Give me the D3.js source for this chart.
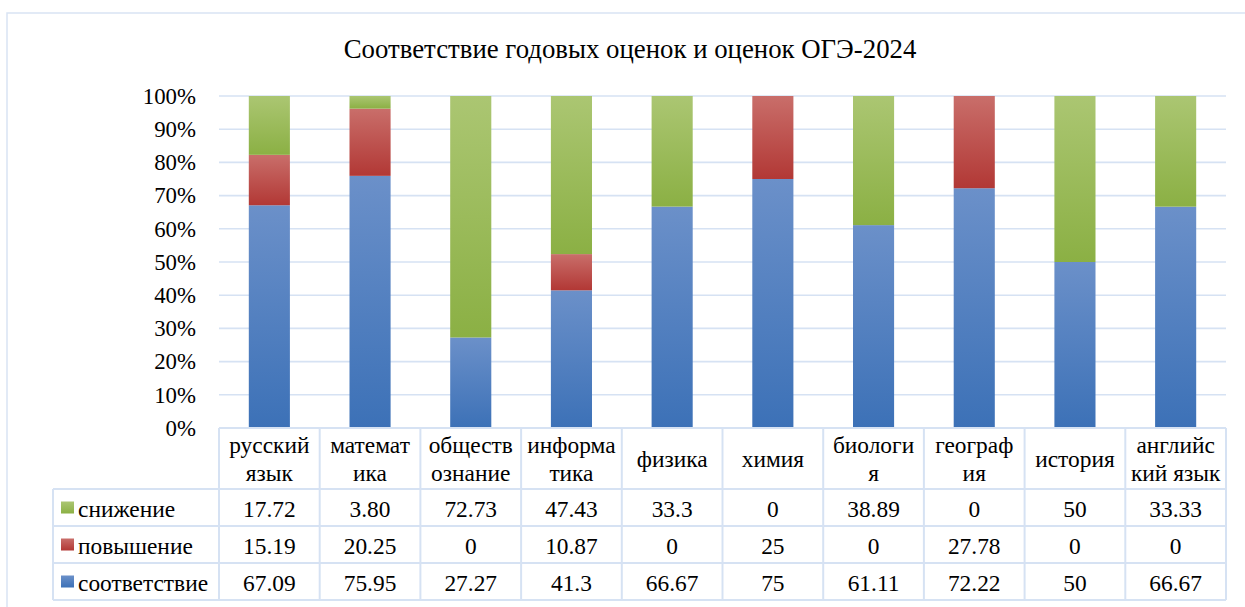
<!DOCTYPE html>
<html>
<head>
<meta charset="utf-8">
<script src="https://cdn.jsdelivr.net/npm/d3@7"></script>
<style>
  html, body { margin: 0; padding: 0; background: #fff; }
  svg { display: block; }
  svg text { font-family: 'Tinos', 'Times', serif; }
</style>
</head>
<body>
<div id="chart"></div>
<script>
// categories as they wrap in the table header
const categories = [
  ["русский", "язык"], ["математ", "ика"], ["обществ", "ознание"], ["информа", "тика"],
  ["физика"], ["химия"], ["биологи", "я"], ["географ", "ия"], ["история"], ["английс", "кий язык"]
];
const decline = ["17.72", "3.80", "72.73", "47.43", "33.3", "0", "38.89", "0", "50", "33.33"];
const increase = ["15.19", "20.25", "0", "10.87", "0", "25", "0", "27.78", "0", "0"];
const match = ["67.09", "75.95", "27.27", "41.3", "66.67", "75", "61.11", "72.22", "50", "66.67"];
const yTicks = [0, 0.1, 0.2, 0.3, 0.4, 0.5, 0.6, 0.7, 0.8, 0.9, 1];

const seriesNames = ["соответствие", "повышение", "снижение"];
const seriesValues = [match, increase, decline];
const colors = {
  "соответствие": ["#6b90c9", "#3c71b7"],
  "повышение": ["#c96e6a", "#b23835"],
  "снижение": ["#abc672", "#8bb044"]
};

const FONT = "'Tinos', 'Times', serif";
const width = 1245, height = 607;
const plot = { left: 219, right: 1226, top: 96, bottom: 428 };
const headerH = 61, rowH = 37, legendLeft = 53;
const gridColor = "#d6e2f3";
const cellFont = "23.4px";

const rows = categories.map((c, i) => {
  const r = { key: i };
  seriesNames.forEach((s, j) => { r[s] = +seriesValues[j][i]; });
  return r;
});

const stacked = d3.stack().keys(seriesNames).offset(d3.stackOffsetExpand)(rows);

const x = d3.scaleBand().domain(d3.range(categories.length)).range([plot.left, plot.right]).padding(0);
const y = d3.scaleLinear().domain([0, 1]).range([plot.bottom, plot.top]);
const barW = x.bandwidth() / 2.45;

const svg = d3.select("#chart").append("svg").attr("width", width).attr("height", height);

const defs = svg.append("defs");
seriesNames.forEach((s, i) => {
  const g = defs.append("linearGradient").attr("id", "grad" + i)
    .attr("x1", 0).attr("y1", 0).attr("x2", 0).attr("y2", 1);
  g.append("stop").attr("offset", "0%").attr("stop-color", colors[s][0]);
  g.append("stop").attr("offset", "100%").attr("stop-color", colors[s][1]);
});

// chart frame (right and bottom edges are off the picture)
svg.append("rect").attr("x", 7).attr("y", 13).attr("width", 1300).attr("height", 700)
  .attr("fill", "none").attr("stroke", "#d9e4f3").attr("stroke-width", 1.5);

svg.append("text").attr("x", 630).attr("y", 58).attr("text-anchor", "middle")
  .style("font-family", FONT).attr("font-size", "26.8px").attr("fill", "#000")
  .text("Соответствие годовых оценок и оценок ОГЭ-2024");

// gridlines
svg.append("g").selectAll("line").data(yTicks.filter(t => t > 0)).join("line")
  .attr("x1", plot.left).attr("x2", plot.right)
  .attr("y1", d => y(d)).attr("y2", d => y(d))
  .attr("stroke", gridColor).attr("stroke-width", 1.6);

// y axis labels
const yAxis = svg.append("g").attr("transform", `translate(${plot.left},0)`)
  .call(d3.axisLeft(y).tickValues(yTicks).tickFormat(d3.format(".0%")).tickSize(0).tickPadding(23));
yAxis.select(".domain").remove();
yAxis.selectAll("text").style("font-family", FONT).attr("font-size", "22.8px").attr("fill", "#000");

// bars
svg.append("g").selectAll("g").data(stacked).join("g")
  .attr("fill", (d, i) => `url(#grad${i})`)
  .selectAll("rect").data(d => d).join("rect")
  .attr("x", d => x(d.data.key) + (x.bandwidth() - barW) / 2)
  .attr("width", barW)
  .attr("y", d => y(d[1]))
  .attr("height", d => y(d[0]) - y(d[1]));

// data table
const table = svg.append("g").attr("stroke", gridColor).attr("stroke-width", 2);
const tableBottom = plot.bottom + headerH + rowH * 3;
table.append("line").attr("x1", plot.left).attr("x2", plot.right).attr("y1", plot.bottom).attr("y2", plot.bottom);
[0, 1, 2, 3].forEach(k => {
  const yy = plot.bottom + headerH + rowH * k;
  table.append("line").attr("x1", legendLeft).attr("x2", plot.right).attr("y1", yy).attr("y2", yy);
});
table.append("line").attr("x1", legendLeft).attr("x2", legendLeft)
  .attr("y1", plot.bottom + headerH).attr("y2", tableBottom);
d3.range(categories.length + 1).forEach(i => {
  const xx = i < categories.length ? x(i) : plot.right;
  table.append("line").attr("x1", xx).attr("x2", xx).attr("y1", plot.bottom).attr("y2", tableBottom);
});

// header labels
const header = svg.append("g");
categories.forEach((lines, i) => {
  const cx = x(i) + x.bandwidth() / 2;
  const mid = plot.bottom + headerH / 2 + 8;
  lines.forEach((ln, k) => {
    header.append("text").attr("x", cx)
      .attr("y", mid + (k - (lines.length - 1) / 2) * 28)
      .style("font-family", FONT).attr("font-size", cellFont)
      .attr("text-anchor", "middle").attr("fill", "#000")
      .text(ln);
  });
});

// rows: top снижение, then повышение, then соответствие
const rowOrder = [2, 1, 0];
const body = svg.append("g");
rowOrder.forEach((si, r) => {
  const cy = plot.bottom + headerH + rowH * r + rowH / 2 + 9;
  body.append("rect").attr("x", 61).attr("y", cy - 15).attr("width", 13).attr("height", 12)
    .attr("fill", `url(#grad${si})`);
  body.append("text").attr("x", 78).attr("y", cy)
    .style("font-family", FONT).attr("font-size", cellFont).attr("fill", "#000")
    .text(seriesNames[si]);
  seriesValues[si].forEach((v, i) => {
    body.append("text").attr("x", x(i) + x.bandwidth() / 2).attr("y", cy)
      .style("font-family", FONT).attr("font-size", cellFont).attr("fill", "#000")
      .attr("text-anchor", "middle").text(v);
  });
});
</script>
</body>
</html>
